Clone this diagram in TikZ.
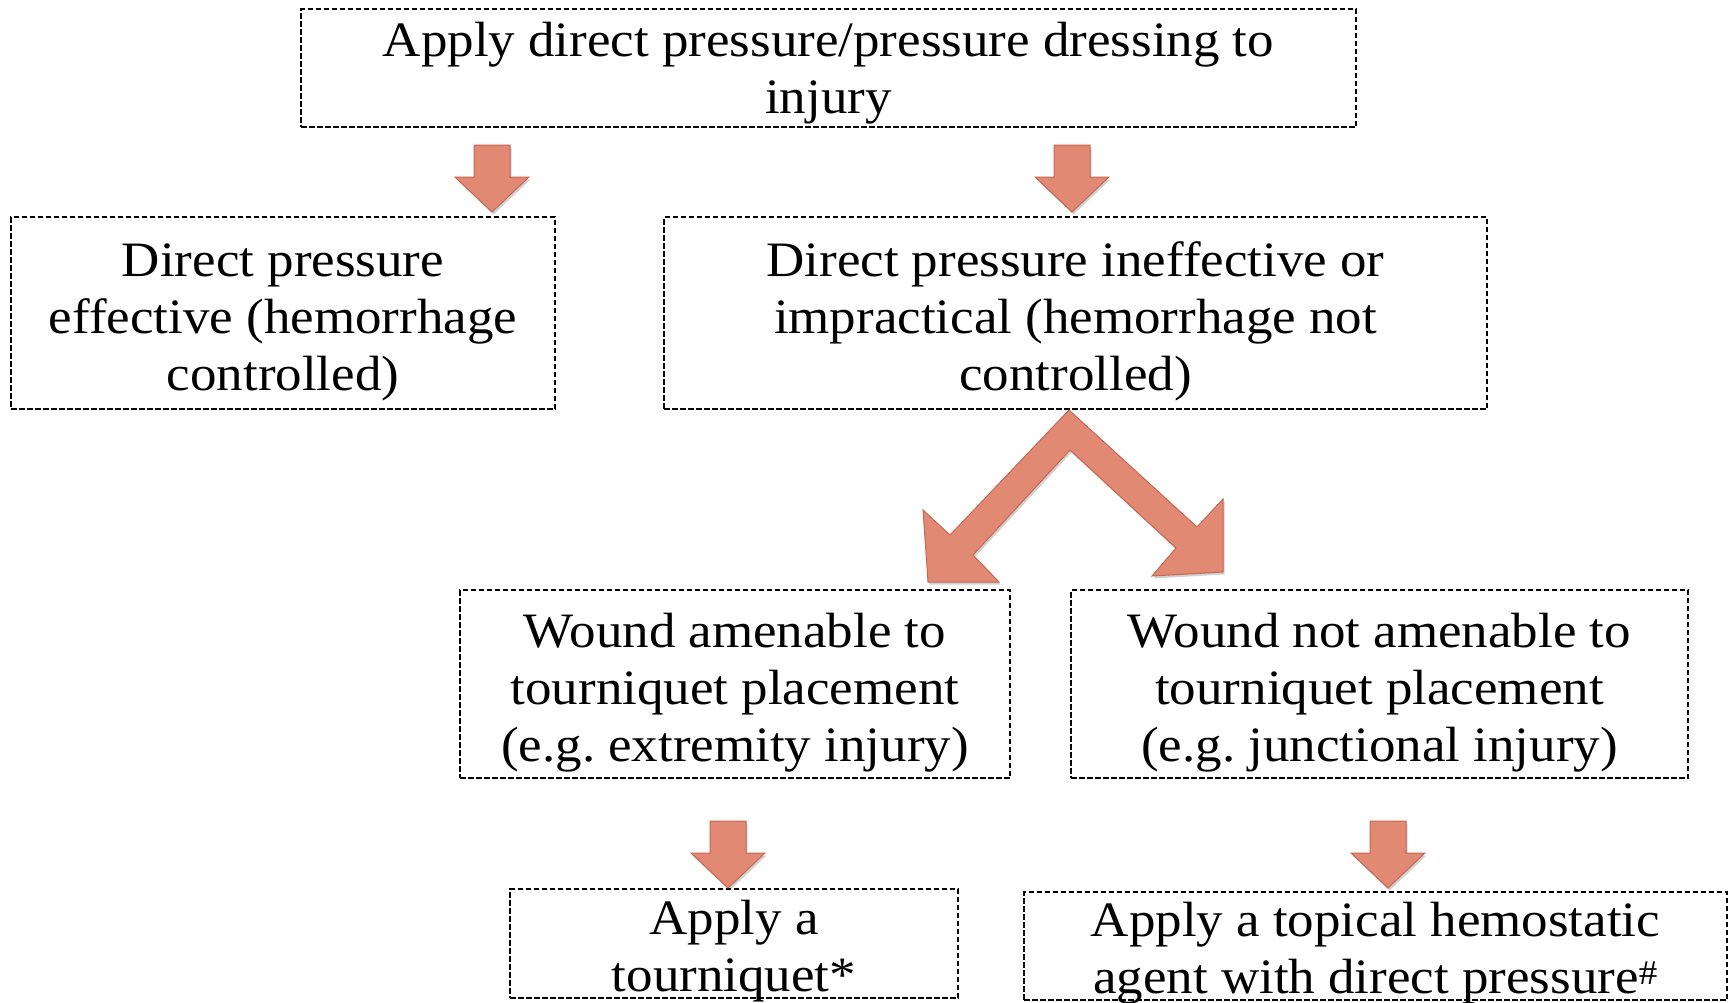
\documentclass[tikz,border=0pt]{standalone}
\usepackage{fontspec}
\setmainfont{Liberation Serif}[FakeStretch=1.07]
\frenchspacing
\definecolor{arrfill}{RGB}{225,137,114}
\definecolor{arredge}{RGB}{198,104,84}
\tikzset{
  box/.style={rectangle, draw=black, line width=2pt, dash pattern=on 5.5pt off 2.5pt, inner sep=0pt},
  txt/.style={align=center, inner sep=0pt, font=\fontsize{49.5}{57}\selectfont},
  blockarrow/.style={fill=arrfill, draw=arredge, line width=1pt, line join=miter},
  arrowshadow/.style={fill=black, opacity=0.18, draw=none},
  downarrow/.pic={
    \path[arrowshadow] (1.5,2.5) -- (38.5,-32.5) -- (19.5,-32.5) -- (19.5,-64.5) -- (-16.5,-64.5) -- (-16.5,-32.5) -- (-35.5,-32.5) -- cycle;
    \path[blockarrow] (0,0) -- (37,-35) -- (18,-35) -- (18,-67) -- (-18,-67) -- (-18,-35) -- (-37,-35) -- cycle;
  }
}
\begin{document}
\begin{tikzpicture}[x=1pt, y=-1pt]
\fill[white] (0,0) rectangle (1730,1002);
\useasboundingbox (0,0) rectangle (1730,1002);

% boxes
\node[box, minimum width=1055pt, minimum height=118pt] (b1) at (828.5,68) {};
\node[box, minimum width=544pt, minimum height=192pt] (b2) at (283,313) {};
\node[box, minimum width=823pt, minimum height=192pt] (b3) at (1075.5,313) {};
\node[box, minimum width=550pt, minimum height=188pt] (b4) at (735,684) {};
\node[box, minimum width=617pt, minimum height=188pt] (b5) at (1379.5,684) {};
\node[box, minimum width=448pt, minimum height=109pt] (b6) at (734,943.5) {};
\node[box, minimum width=703pt, minimum height=108pt] (b7) at (1375.5,946) {};

% texts
\node[txt] (t1) at (828.5,74) {\strut Apply direct pressure/pressure dressing to\\ injury\strut};
\node[txt] (t2) at (283,321.6) {\strut Direct pressure\\ effective (hemorrhage\\ controlled)\strut};
\node[txt] (t3) at (1075.5,321.6) {\strut Direct pressure ineffective or\\ impractical (hemorrhage not\\ controlled)\strut};
\node[txt] (t4) at (735,692.6) {\strut Wound amenable to\\ tourniquet placement\\ (e.g. extremity injury)\strut};
\node[txt] (t5) at (1379.5,692.6) {\strut Wound not amenable to\\ tourniquet placement\\ (e.g. junctional injury)\strut};
\node[txt] (t6) at (734,952) {\strut Apply a\\ tourniquet*\strut};
\node[txt] (t7) at (1375.5,954) {\strut Apply a topical hemostatic\\ agent with direct pressure\textsuperscript{\#}\strut};

% down arrows
\coordinate (tipA) at (492,212);
\coordinate (tipB) at (1072,212);
\coordinate (tipC) at (728,888);
\coordinate (tipD) at (1388,888);
\pic at (tipA) {downarrow};
\pic at (tipB) {downarrow};
\pic at (tipC) {downarrow};
\pic at (tipD) {downarrow};

% split (chevron) arrow
\path[arrowshadow] (1070.5,412.5) -- (1198.5,529.5) -- (1224.5,501.5) -- (1224.5,574.5) -- (1153.5,578.5) -- (1177.5,550.5) -- (1071.5,452.5) -- (974.5,557.5) -- (1000.5,584.5) -- (929.5,584.5) -- (924.5,512.5) -- (951.5,537.5) -- cycle;
\path[blockarrow] (1069,410) -- (1197,527) -- (1223,499) -- (1223,572) -- (1152,576) -- (1176,548) -- (1070,450) -- (973,555) -- (999,582) -- (928,582) -- (923,510) -- (950,535) -- cycle;
\end{tikzpicture}
\end{document}
